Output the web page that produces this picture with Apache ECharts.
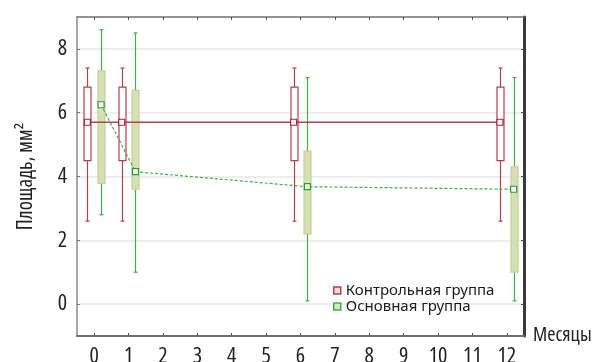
<!DOCTYPE html>
<html>
  <head>
    <meta charset="utf-8">
    <title>Площадь</title>
    <script src="https://cdn.jsdelivr.net/npm/echarts@6/dist/echarts.min.js"></script>
    <style>
      html, body { margin: 0; padding: 0; background: #fff; }
      #main { width: 594px; height: 362px; }
    </style>
  </head>
  <body>
    <div id="main"></div>
    <script type="text/javascript">
      // данные
      var months = [0, 1, 6, 12];
      var xTicks = [0, 1, 2, 3, 4, 5, 6, 7, 8, 9, 10, 11, 12];
      var yTicks = [0, 2, 4, 6, 8];

      var ctrlMin  = [2.6, 2.6, 2.6, 2.6];
      var ctrlQ1   = [4.5, 4.5, 4.5, 4.5];
      var ctrlMean = [5.7, 5.7, 5.7, 5.7];
      var ctrlQ3   = [6.8, 6.8, 6.8, 6.8];
      var ctrlMax  = [7.4, 7.4, 7.4, 7.4];

      var mainMin  = [2.8, 1.0, 0.1, 0.1];
      var mainQ1   = [3.78, 3.6, 2.2, 1.0];
      var mainMean = [6.25, 4.15, 3.68, 3.6];
      var mainQ3   = [7.31, 6.7, 4.8, 4.3];
      var mainMax  = [8.6, 8.5, 7.1, 7.1];

      // узкий шрифт (Open Sans condensed)
      var NARROW = { fontFamily: 'Open Sans', fontWeight: 'condensed' };
      var RED = '#b3404b';
      var GREEN = '#3fae45';

      function boxData(off, mn, q1, mean, q3, mx) {
        var out = [];
        for (var i = 0; i < months.length; i++) {
          out.push([months[i] + off, mn[i], q1[i], mean[i], q3[i], mx[i]]);
        }
        return out;
      }
      function meanData(off, mean) {
        var out = [];
        for (var i = 0; i < months.length; i++) {
          out.push([months[i] + off, mean[i]]);
        }
        return out;
      }

      function makeBox(stroke, fill, boxStroke) {
        return function (params, api) {
          var x = api.value(0);
          var pMin = api.coord([x, api.value(1)]);
          var pQ1 = api.coord([x, api.value(2)]);
          var pQ3 = api.coord([x, api.value(4)]);
          var pMax = api.coord([x, api.value(5)]);
          var cx = Math.round(pMin[0]) + 0.5;
          var w = 7, cap = 2;
          return {
            type: 'group',
            children: [
              { type: 'line', shape: { x1: cx, y1: pMax[1], x2: cx, y2: pQ3[1] }, style: { stroke: stroke, lineWidth: 1.2 } },
              { type: 'line', shape: { x1: cx, y1: pQ1[1], x2: cx, y2: pMin[1] }, style: { stroke: stroke, lineWidth: 1.2 } },
              { type: 'line', shape: { x1: cx - cap, y1: pMax[1], x2: cx + cap, y2: pMax[1] }, style: { stroke: stroke, lineWidth: 1.2 } },
              { type: 'line', shape: { x1: cx - cap, y1: pMin[1], x2: cx + cap, y2: pMin[1] }, style: { stroke: stroke, lineWidth: 1.2 } },
              { type: 'rect', shape: { x: cx - w / 2, y: pQ3[1], width: w, height: pQ1[1] - pQ3[1] }, style: { stroke: boxStroke, fill: fill, lineWidth: 1.2 } }
            ]
          };
        };
      }

      var myChart = echarts.init(document.getElementById('main'));
      var option = {
        animation: false,
        grid: { left: 77, right: 70, top: 17, bottom: 26, containLabel: false, outerBoundsMode: 'none' },
        legend: {
          left: 328,
          top: 278,
          orient: 'vertical',
          itemWidth: 7,
          itemHeight: 7,
          itemGap: 1,
          textStyle: { fontFamily: 'Noto Sans', fontSize: 15, color: '#1a1a1a' },
          data: [
            { name: 'Контрольная группа', icon: 'rect', itemStyle: { color: '#f3dada', borderColor: RED, borderWidth: 1.5 } },
            { name: 'Основная группа', icon: 'rect', itemStyle: { color: '#dce7c2', borderColor: GREEN, borderWidth: 1.5 } }
          ]
        },
        xAxis: [
          {
            type: 'value', position: 'bottom', min: -0.5, max: 12.5,
            name: 'Месяцы', nameLocation: 'end', nameGap: 9,
            nameTextStyle: { fontFamily: NARROW.fontFamily, fontWeight: NARROW.fontWeight, fontSize: 20, color: '#222', verticalAlign: 'top', padding: [-11, 0, 0, 0] },
            axisLine: { onZero: false, lineStyle: { color: '#6f6f6f', width: 2 } },
            axisTick: { inside: true, length: 3, customValues: xTicks, lineStyle: { color: '#555' } },
            axisLabel: { customValues: xTicks, fontSize: 22, color: '#222', margin: 10, fontFamily: NARROW.fontFamily, fontWeight: NARROW.fontWeight },
            splitLine: { show: false }
          },
          {
            type: 'value', position: 'top', min: -0.5, max: 12.5,
            axisLine: { onZero: false, lineStyle: { color: '#6f6f6f', width: 1.5 } },
            axisTick: { inside: true, length: 3, customValues: xTicks, lineStyle: { color: '#555' } },
            axisLabel: { show: false },
            splitLine: { show: false }
          }
        ],
        yAxis: [
          {
            type: 'value', position: 'left', min: -1, max: 9,
            name: 'Площадь, мм²', nameLocation: 'middle', nameGap: 40,
            nameTextStyle: { fontFamily: NARROW.fontFamily, fontWeight: NARROW.fontWeight, fontSize: 21, color: '#222' },
            axisLine: { show: true, onZero: false, lineStyle: { color: '#8a8a8a', width: 1.5 } },
            axisTick: { show: true, inside: true, length: 3, customValues: yTicks, lineStyle: { color: '#777' } },
            axisLabel: { customValues: yTicks, fontSize: 22, color: '#222', margin: 10, fontFamily: NARROW.fontFamily, fontWeight: NARROW.fontWeight },
            splitLine: { show: true, lineStyle: { color: '#e6e9e6', width: 1.5 } }
          },
          {
            type: 'value', position: 'right', min: -1, max: 9,
            axisLine: { show: true, onZero: false, lineStyle: { color: '#3a3a3a', width: 3 } },
            axisTick: { show: true, inside: true, length: 3, customValues: yTicks, lineStyle: { color: '#444' } },
            axisLabel: { show: false },
            splitLine: { show: false }
          }
        ],
        series: [
          {
            name: 'Основная группа',
            type: 'custom',
            renderItem: makeBox(GREEN, '#d5e0b6', '#c2d09a'),
            encode: { x: 0, y: [1, 2, 3, 4, 5] },
            data: boxData(0.2, mainMin, mainQ1, mainMean, mainQ3, mainMax),
            z: 2
          },
          {
            name: 'Контрольная группа',
            type: 'custom',
            renderItem: makeBox(RED, '#ffffff', RED),
            encode: { x: 0, y: [1, 2, 3, 4, 5] },
            data: boxData(-0.2, ctrlMin, ctrlQ1, ctrlMean, ctrlQ3, ctrlMax),
            z: 2
          },
          {
            name: 'Контрольная группа',
            type: 'line',
            data: meanData(-0.2, ctrlMean),
            symbol: 'rect',
            symbolSize: 6,
            showAllSymbol: true,
            itemStyle: { color: '#fff', borderColor: '#9a2a36', borderWidth: 1.2 },
            lineStyle: { color: RED, width: 1.5 },
            z: 3
          },
          {
            name: 'Основная группа',
            type: 'line',
            data: meanData(0.2, mainMean),
            symbol: 'rect',
            symbolSize: 6,
            showAllSymbol: true,
            itemStyle: { color: '#fff', borderColor: '#2a9a36', borderWidth: 1.2 },
            lineStyle: { color: GREEN, width: 1.2, type: [3, 2] },
            z: 4
          }
        ]
      };
      myChart.setOption(option);
    </script>
  </body>
</html>
